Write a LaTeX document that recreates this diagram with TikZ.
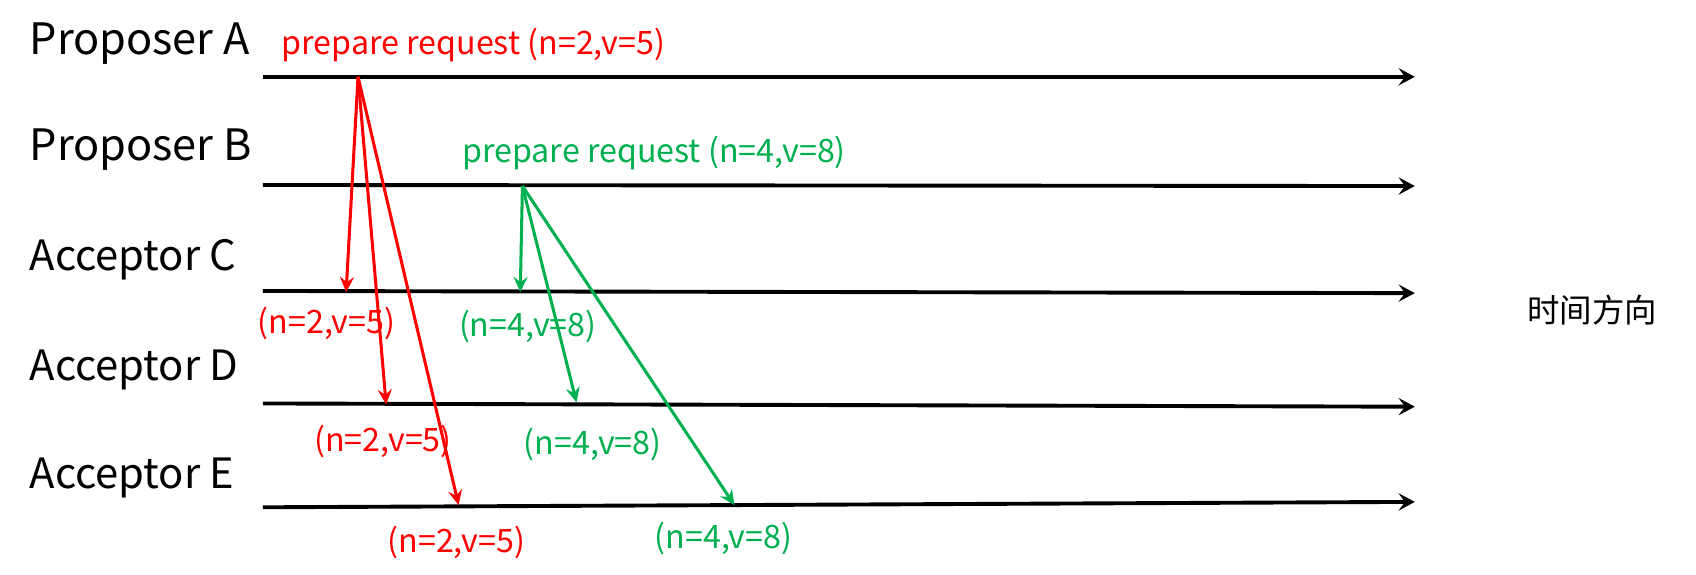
\documentclass[tikz,border=0pt]{standalone}
\usepackage{fontspec}
\setmainfont{Noto Sans CJK SC}
\usetikzlibrary{arrows.meta}
\definecolor{pgreen}{RGB}{0,176,80}
\definecolor{pred}{RGB}{255,0,0}
\begin{document}
\begin{tikzpicture}[x=0.5pt,y=-0.5pt,
  timeline/.style={line width=1.8pt, -{Stealth[length=7.5pt,width=8pt,inset=3pt]}},
  msg/.style={line width=1.4pt, -{Stealth[length=7pt,width=6.5pt,inset=2.5pt]}},
  lane/.style={anchor=base west, font=\fontsize{20}{24}\selectfont, inner sep=0pt},
  acc/.style={anchor=base west, font=\fontsize{19.3}{24}\selectfont, inner sep=0pt},
  lbl/.style={anchor=base west, font=\fontsize{14.9}{18}\selectfont, inner sep=0pt}]
\useasboundingbox (0,0) rectangle (1568,531);
% lane labels
\node[lane] (la) at (27,50) {Proposer A};
\node[lane] (lb) at (27,148) {Proposer B};
\node[acc] (lc) at (27,250) {Acceptor C};
\node[acc] (ld) at (27,352) {Acceptor D};
\node[acc] (le) at (27,452) {Acceptor E};
% timelines
\coordinate (a0) at (243,71);  \coordinate (a1) at (1308,71);
\coordinate (b0) at (243,171); \coordinate (b1) at (1308,172);
\coordinate (c0) at (243,269); \coordinate (c1) at (1308,271);
\coordinate (d0) at (243,373); \coordinate (d1) at (1308,376);
\coordinate (e0) at (243,469); \coordinate (e1) at (1308,464);
\draw[timeline] (a0) -- (a1);
\draw[timeline] (b0) -- (b1);
\draw[timeline] (c0) -- (c1);
\draw[timeline] (d0) -- (d1);
\draw[timeline] (e0) -- (e1);
% messages from A
\coordinate (ra) at (331,71);
\coordinate (rc) at (320,270);
\coordinate (rd) at (357,374);
\coordinate (re) at (424,467);
\draw[msg,pred] (ra) -- (rc);
\draw[msg,pred] (ra) -- (rd);
\draw[msg,pred] (ra) -- (re);
% messages from B
\coordinate (gb) at (483,172);
\coordinate (gc) at (481,270);
\coordinate (gd) at (533,372);
\coordinate (ge) at (679,467);
\draw[msg,pgreen] (gb) -- (gc);
\draw[msg,pgreen] (gb) -- (gd);
\draw[msg,pgreen] (gb) -- (ge);
% labels
\node[lbl,text=pred] (pa) at (260,50) {prepare request (n=2,v=5)};
\node[lbl,text=pgreen] (pb) at (427,150) {prepare request (n=4,v=8)};
\node[lbl,text=pred] (rcl) at (238,308) {(n=2,v=5)};
\node[lbl,text=pgreen] (gcl) at (424,311) {(n=4,v=8)};
\node[lbl,text=pred] (rdl) at (290,417) {(n=2,v=5)};
\node[lbl,text=pgreen] (gdl) at (484,420) {(n=4,v=8)};
\node[lbl,text=pred] (rel) at (358,511) {(n=2,v=5)};
\node[lbl,text=pgreen] (gel) at (605,507) {(n=4,v=8)};
\node[font=\fontsize{15}{18}\selectfont, inner sep=0pt] (dir) at (1472,287) {时间方向};
\end{tikzpicture}
\end{document}
